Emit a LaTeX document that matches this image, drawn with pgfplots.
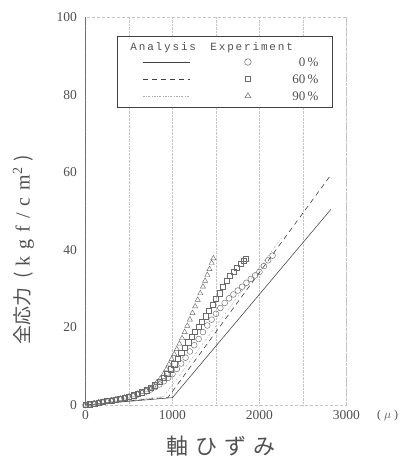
\documentclass[border=0pt]{standalone}
\usepackage{fontspec}
\setmainfont{Liberation Serif}
\setmonofont{Liberation Mono}
\newfontfamily\jp{Noto Sans CJK JP}
\usepackage{pgfplots}
\pgfplotsset{compat=1.18}

\definecolor{ink}{HTML}{505050}
\definecolor{lineink}{HTML}{404040}
\definecolor{mk}{HTML}{6A6A6A}
\definecolor{gridc}{HTML}{C4C4C4}

\begin{document}
\begin{tikzpicture}
\begin{axis}[
    name=ax,
    scale only axis,
    width=261pt, height=388pt,
    xmin=0, xmax=3000, ymin=0, ymax=100,
    xtick={0,1000,2000,3000},
    minor xtick={500,1500,2500},
    ytick={0,20,40,60,80,100},
    xmajorgrids, xminorgrids,
    grid style={gridc, densely dotted, line width=0.4pt},
    axis line style={gridc, densely dashed, line width=0.5pt},
    tick style={draw=none},
    ticklabel style={font=\fontsize{13.5}{13.5}\selectfont, text=ink},
    /pgf/number format/assume math mode=true,
    /pgf/number format/1000 sep={},
    xticklabel style={yshift=-2pt},
    yticklabel style={xshift=-5pt},
    xlabel={軸\hspace{7pt}ひ\hspace{7pt}ず\hspace{7pt}み},
    xlabel style={at={(rel axis cs:0.52,0)}, anchor=north, yshift=-27pt,
        font=\jp\fontsize{22}{22}\selectfont, text=ink},
    ylabel={全応力\hspace{9pt}(\hspace{6pt}{\rmfamily\fontsize{20}{20}\selectfont k\hspace{7pt}g\hspace{7pt}f\hspace{7pt}/\hspace{7pt}c\hspace{7pt}m\textsuperscript{2}}\hspace{6pt})},
    ylabel style={at={(rel axis cs:0,0.40)}, anchor=center, yshift=62pt,
        font=\jp\fontsize{19}{19}\selectfont, text=ink},
]

% analysis lines
\addplot[lineink, line width=0.55pt] coordinates {
    (0,0) (1000,1.9) (2820,50.4)
};
\addplot[lineink, line width=0.6pt, dash pattern=on 5pt off 4pt] coordinates {
    (0,0) (950,2.0) (2820,59.3)
};
\addplot[mk!55, line width=0.45pt, dash pattern=on 2pt off 1.5pt on 0.5pt off 1.5pt] coordinates {
    (0,0) (900,2.2) (2250,43.0)
};

% experiment, 0%
\addplot[only marks, mark=o, mark size=2.9pt, mk, mark options={line width=0.45pt}] coordinates {
    (0,0) (50,0.2) (100,0.4) (150,0.6) (200,0.8) (250,1.0) (300,1.2) (350,1.4)
    (400,1.6) (450,1.8) (500,2.0) (550,2.3) (600,2.7) (650,3.1) (700,3.5)
    (750,4.0) (800,4.6) (850,5.3) (900,6.1) (950,7.0) (1000,8.0) (1050,9.3)
    (1100,10.7) (1150,12.2) (1200,13.8) (1250,15.4) (1300,17.0) (1350,18.8)
    (1400,20.5) (1450,22.0) (1500,23.5) (1550,25.0) (1600,26.3) (1650,27.5)
    (1700,28.5) (1750,29.5) (1800,30.5) (1850,31.5) (1900,32.5) (1950,33.4)
    (2000,34.3) (2050,35.8) (2100,37.3) (2150,38.5)
};
% experiment, 60%
\addplot[only marks, mark=square, mark size=2.6pt, mk, mark options={line width=0.45pt}] coordinates {
    (0,0) (50,0.2) (100,0.4) (150,0.6) (200,0.8) (250,1.0) (300,1.2) (350,1.4)
    (400,1.6) (450,1.9) (500,2.2) (550,2.5) (600,2.9) (650,3.3) (700,3.8)
    (750,4.4) (800,5.1) (850,6.0) (900,7.0) (940,8.0) (980,9.2) (1020,10.5)
    (1060,12.0) (1100,13.4) (1140,14.8) (1180,16.2) (1220,17.6) (1260,18.9)
    (1300,20.2) (1340,21.5) (1380,22.9) (1420,24.3) (1460,25.8) (1500,27.3)
    (1540,28.8) (1580,30.4) (1620,32.0) (1660,33.3) (1700,34.4) (1740,35.4)
    (1780,36.4) (1820,37.2) (1846,37.6)
};
% experiment, 90%
\addplot[only marks, mark=triangle, mark size=3.0pt, mk, mark options={line width=0.45pt}] coordinates {
    (0,0) (50,0.2) (100,0.4) (150,0.6) (200,0.8) (250,1.0) (300,1.2) (350,1.4)
    (400,1.6) (450,1.9) (500,2.2) (550,2.5) (600,2.9) (650,3.3) (700,3.8)
    (740,4.3) (780,5.0) (820,5.8) (860,6.8) (900,8.0) (930,9.2) (960,10.5)
    (990,11.8) (1020,13.1) (1050,14.4) (1080,15.8) (1110,17.2) (1140,18.8)
    (1170,20.4) (1200,22.0) (1230,23.7) (1260,25.4) (1290,27.1) (1320,28.8)
    (1350,30.5) (1375,32.0) (1400,33.5) (1425,35.0) (1450,36.6) (1470,37.8)
};

% solid left axis line
\draw[lineink, line width=0.6pt] (rel axis cs:0,0) -- (rel axis cs:0,1);

% legend frame
\node[draw=lineink, line width=0.7pt, fill=white, anchor=north west, inner sep=0pt,
      minimum width=215pt, minimum height=71pt] (lg) at (axis cs:361,95.1) {};
\end{axis}

% legend contents
\begin{scope}[text=ink]
\node[anchor=west, font=\ttfamily\fontsize{11}{11}\selectfont]
    at ([xshift=10pt,yshift=-12pt]lg.north west) {A\,n\,a\,l\,y\,s\,i\,s};
\node[anchor=west, font=\ttfamily\fontsize{11}{11}\selectfont]
    at ([xshift=90pt,yshift=-12pt]lg.north west) {E\,x\,p\,e\,r\,i\,m\,e\,n\,t};
\draw[lineink, line width=0.5pt]
    ([xshift=26pt,yshift=-26pt]lg.north west) -- ++(47pt,0);
\draw[lineink, line width=0.6pt, dash pattern=on 5pt off 4pt]
    ([xshift=26pt,yshift=-43pt]lg.north west) -- ++(47pt,0);
\draw[mk!55, line width=0.5pt, dash pattern=on 2pt off 1.5pt on 0.5pt off 1.5pt]
    ([xshift=26pt,yshift=-60pt]lg.north west) -- ++(47pt,0);
\draw[mk, line width=0.5pt] ([xshift=131pt,yshift=-26pt]lg.north west) circle (3.3pt);
\draw[mk, line width=0.5pt] ([xshift=131pt,yshift=-43pt]lg.north west) ++(-2.7pt,-2.7pt) rectangle ++(5.4pt,5.4pt);
\draw[mk, line width=0.5pt] ([xshift=131pt,yshift=-60pt]lg.north west) ++(90:3.4pt) -- ++(240:5.9pt) -- ++(0:5.9pt) -- cycle;
\node[anchor=east, font=\fontsize{13}{13}\selectfont]
    at ([xshift=205pt,yshift=-26pt]lg.north west) {0\,\%};
\node[anchor=east, font=\fontsize{13}{13}\selectfont]
    at ([xshift=205pt,yshift=-43pt]lg.north west) {60\,\%};
\node[anchor=east, font=\fontsize{13}{13}\selectfont]
    at ([xshift=205pt,yshift=-60pt]lg.north west) {90\,\%};
\end{scope}

% unit label after 3000
\node[anchor=west, text=ink, font=\fontsize{12}{12}\selectfont]
    at ([xshift=27pt,yshift=-11pt]ax.south east) {(\hspace{3pt}$\mu$\hspace{3pt})};

\pgfresetboundingbox
\path ([xshift=-85.5pt,yshift=-61pt]ax.south west) rectangle ([xshift=54pt,yshift=17pt]ax.north east);
\end{tikzpicture}
\end{document}
